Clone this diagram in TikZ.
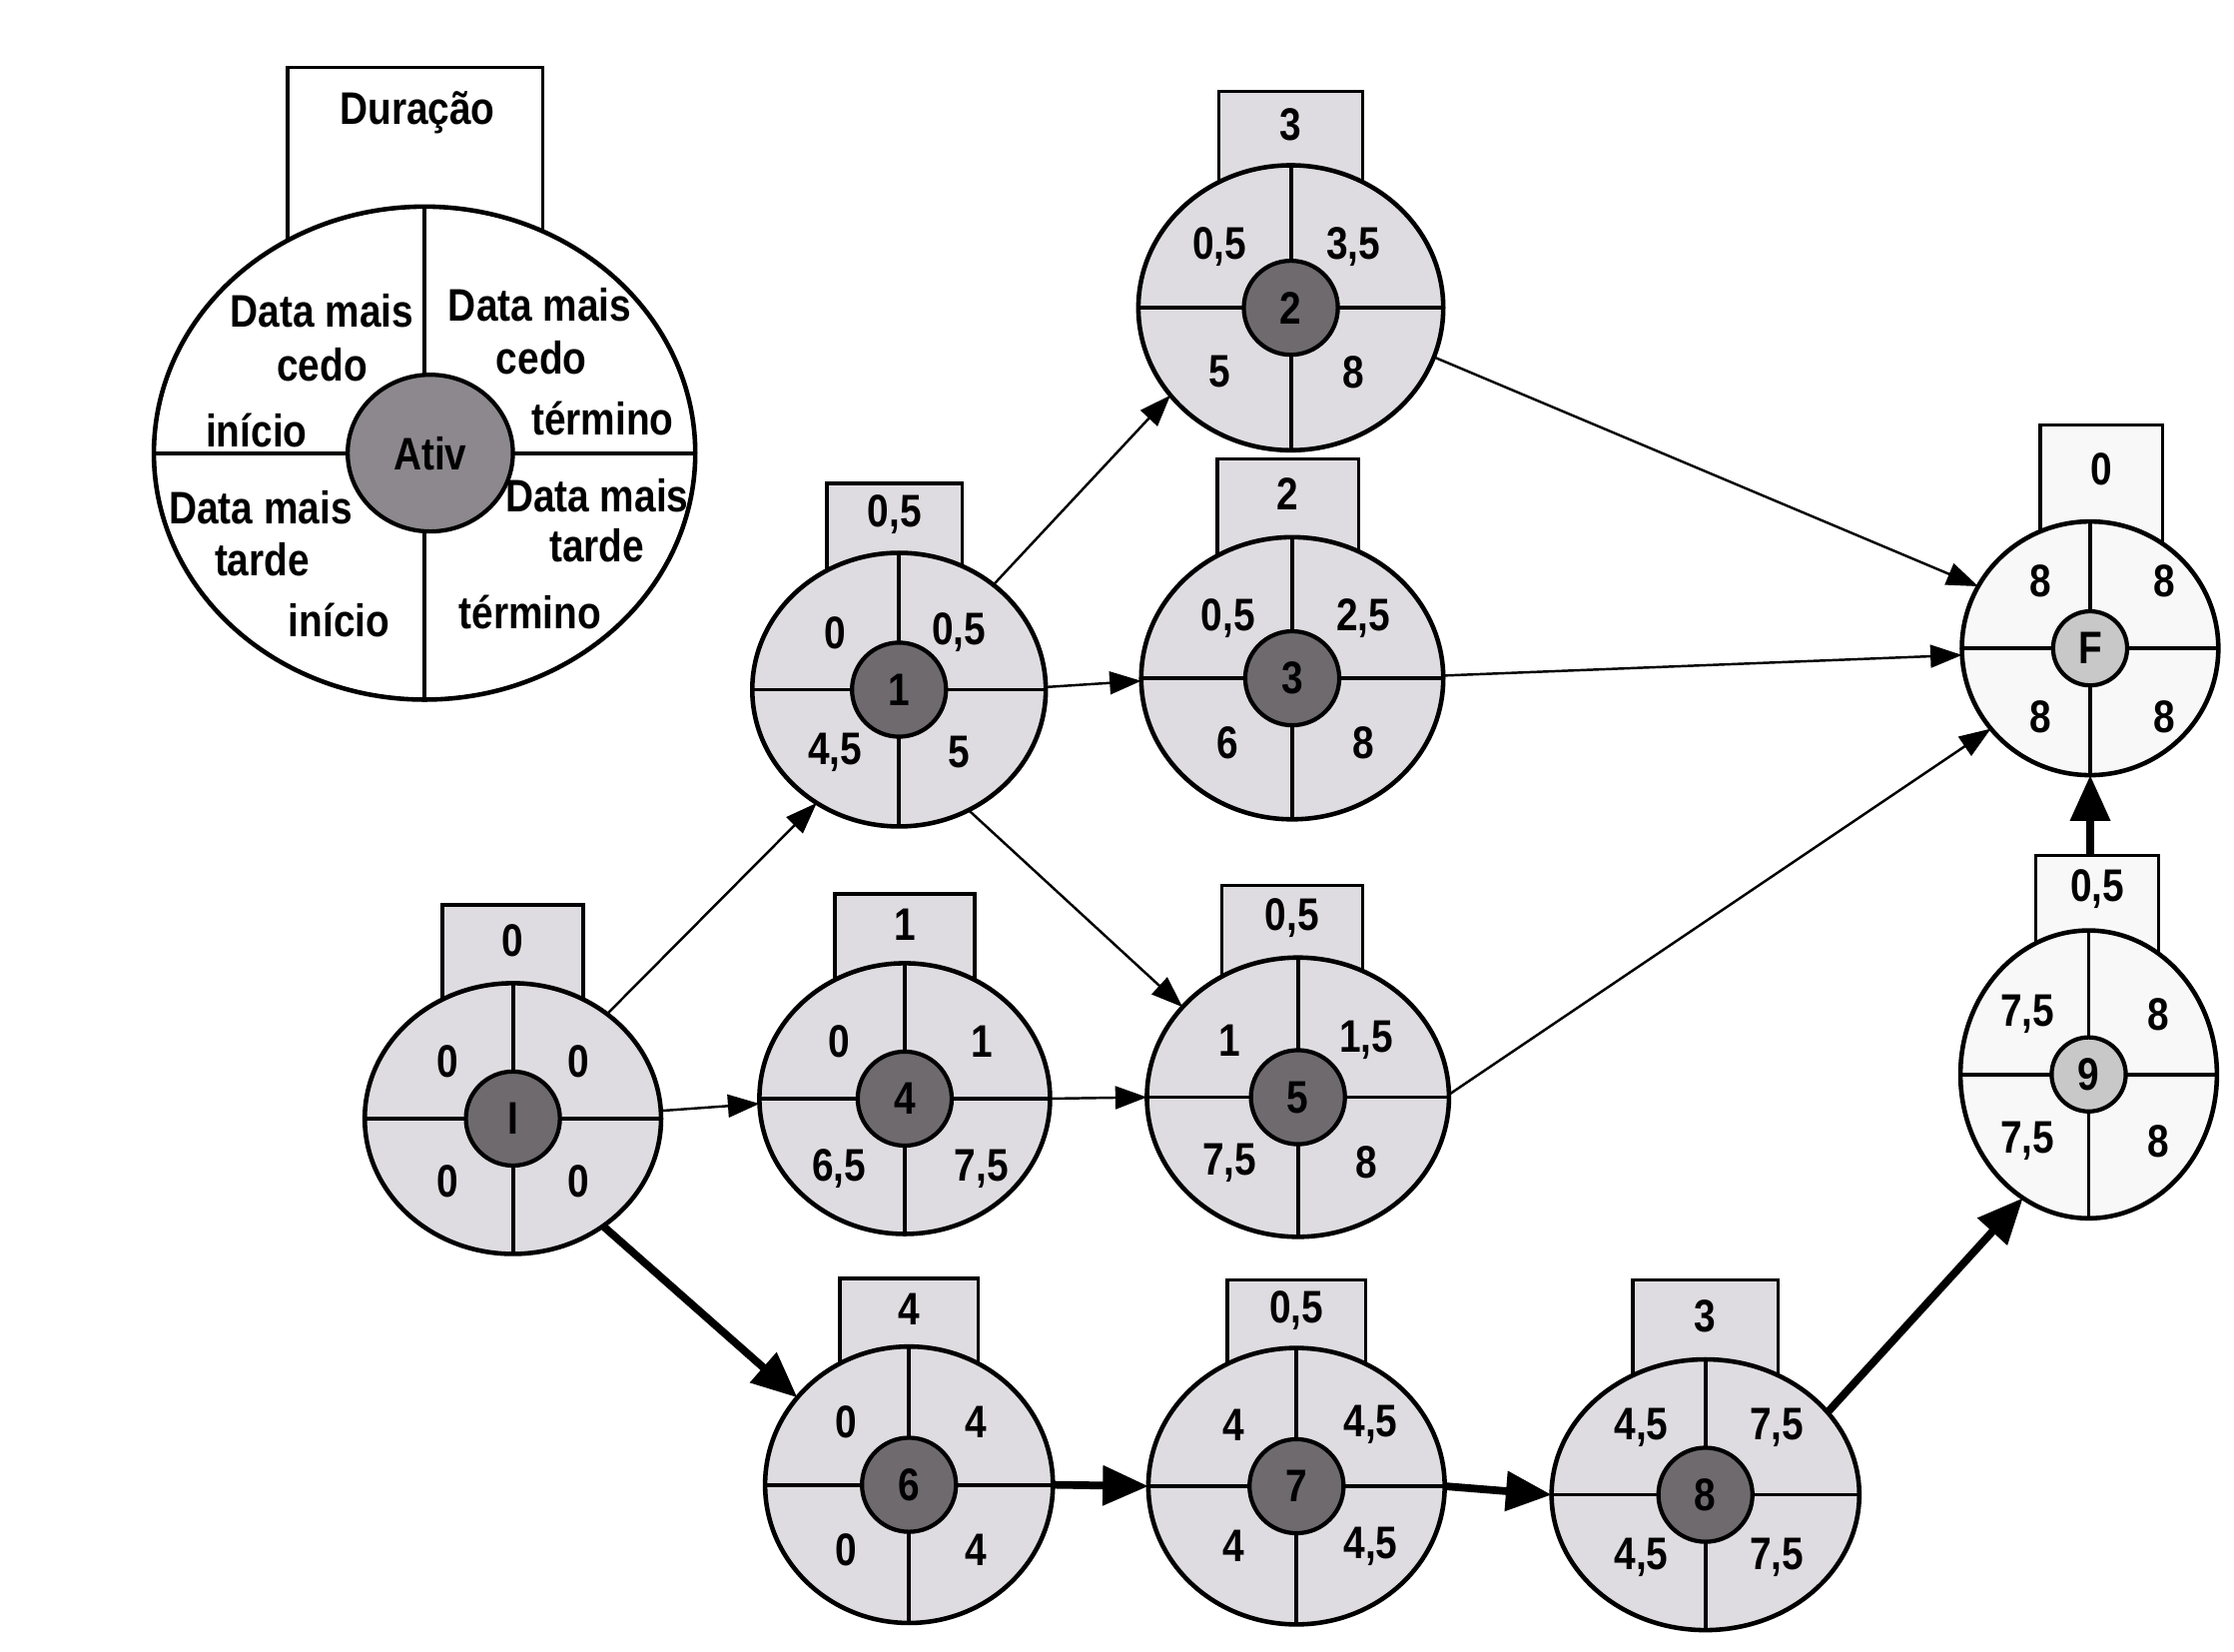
\documentclass[tikz,border=0pt]{standalone}
\usepackage{fontspec}
\setmainfont{Liberation Sans}[FakeStretch=0.85]
\usetikzlibrary{shapes.geometric,arrows.meta,calc}
\newlength\un \setlength\un{0.014267cm}
\newcommand\nodefont{\fontsize{13}{15}\selectfont\bfseries}
\definecolor{nodefill}{RGB}{222,220,224}
\definecolor{innerfill}{RGB}{110,106,110}
\definecolor{lightfill}{RGB}{248,248,248}
\definecolor{lightinner}{RGB}{200,200,200}
\definecolor{leginner}{RGB}{140,136,142}
\pgfkeys{/act/.cd, rx/.store in=\arx, ry/.store in=\ary, bw/.store in=\abw, bh/.store in=\abh,
  fill/.store in=\afill, cfill/.store in=\acfill, cr/.store in=\acr, xl/.store in=\axl,
  xr/.store in=\axr, yt/.store in=\ayt, yb/.store in=\ayb, bx/.store in=\abx}
\tikzset{
  durbox/.style={draw, line width=1pt, inner sep=0pt},
  ell/.style={ellipse, draw, line width=1.3pt, inner sep=0pt, outer sep=0pt},
  cross/.style={line width=1.1pt},
  core/.style={circle, draw, line width=1.2pt, inner sep=0pt, font=\nodefont},
  txt/.style={inner sep=0pt, font=\nodefont},
  thinarrow/.style={line width=0.7pt, -{Triangle[length=9pt,width=6.5pt]}},
  thickarrow/.style={line width=2.2pt, -{Triangle[length=13pt,width=11pt]}}
}
% #1 options, #2 name, #3 centre, #4 duration, #5 label, #6 tl, #7 tr, #8 bl, #9 br
\newcommand\actv[9][]{%
  \pgfkeys{/act/.cd, rx=104, ry=97, bw=98, bh=52, bx=0, fill=nodefill, cfill=innerfill,
    cr=33, xl=46, xr=48, yt=41, yb=45, #1}%
  \coordinate (#2-c) at #3;
  \node[durbox, fill=\afill, minimum width={\abw*\un}, minimum height={(\abh+45)*\un}, anchor=north]
    (#2-box) at ($(#2-c)+({\abx},{-\ary-\abh})$) {};
  \node[txt] (#2-dur) at ($(#2-c)+({\abx},{-\ary-\abh/2-2})$) {#4};
  \node[ell, fill=\afill, minimum width={2*\arx*\un}, minimum height={2*\ary*\un}] (#2) at (#2-c) {};
  \draw[cross] (#2.north) -- (#2.south) (#2.west) -- (#2.east);
  \node[core, fill=\acfill, minimum size={2*\acr*\un}] (#2-in) at (#2-c) {#5};
  \node[txt] (#2-tl) at ($(#2-c)+({-\axl},{-\ayt})$) {#6};
  \node[txt] (#2-tr) at ($(#2-c)+({\axr},{-\ayt})$) {#7};
  \node[txt] (#2-bl) at ($(#2-c)+({-\axl},{\ayb})$) {#8};
  \node[txt] (#2-br) at ($(#2-c)+({\axr},{\ayb})$) {#9};
}
\begin{document}
\begin{tikzpicture}[x=0.014267cm, y=-0.014267cm]
\fill[white] (0,0) rectangle (1568,1159);
\useasboundingbox (0,0) rectangle (1568,1159);

% legend
\node[durbox, fill=white, minimum width={179*\un}, minimum height={150*\un}, anchor=north] (leg-box) at (291.5,46) {};
\node[txt] (leg-dur) at (293,79) {Duração};
\node[ell, fill=white, minimum width={380*\un}, minimum height={346*\un}] (leg) at (298,318) {};
\draw[cross] (leg.north) -- (leg.south) (leg.west) -- (leg.east);
\node[ellipse, draw, line width=1.2pt, fill=leginner, minimum width={116*\un}, minimum height={110*\un}, inner sep=0pt, font=\nodefont] (leg-in) at (302,318) {Ativ};
\node[txt] (l1a) at (226,218) {Data mais};
\node[txt] (l1b) at (226,256) {cedo};
\node[txt] (l1c) at (180,302) {início};
\node[txt] (l2a) at (379,214) {Data mais};
\node[txt] (l2b) at (380,251) {cedo};
\node[txt] (l2c) at (423,294) {término};
\node[txt] (l3a) at (183,356) {Data mais};
\node[txt] (l3b) at (184,393) {tarde};
\node[txt] (l3c) at (238,435) {início};
\node[txt] (l4a) at (419,348) {Data mais};
\node[txt] (l4b) at (419,383) {tarde};
\node[txt] (l4c) at (372,430) {término};

% activities
\actv[rx=104,ry=95,bw=99,bh=56,xl=46,xr=46,yt=40,yb=44]{nI}{(360,785)}{0}{I}{0}{0}{0}{0}
\actv[rx=103,ry=96,bw=95,bh=50,bx=-3,xl=45,xr=42,yt=40,yb=44]{n1}{(631,484)}{0,5}{1}{0}{0,5}{4,5}{5}
\actv[rx=107,ry=100,bw=101,bh=53,xl=50,xr=44,yt=43,yb=45]{n2}{(906,216)}{3}{2}{0,5}{3,5}{5}{8}
\actv[rx=106,ry=99,bw=99,bh=56,bx=-3,xl=45,xr=50,yt=42,yb=45]{n3}{(907,476)}{2}{3}{0,5}{2,5}{6}{8}
\actv[rx=102,ry=95,bw=98,bh=50,xl=46,xr=54,yt=40,yb=49]{n4}{(635,771)}{1}{4}{0}{1}{6,5}{7,5}
\actv[rx=106,ry=98,bw=99,bh=52,bx=-4,xl=48,xr=48,yt=40,yb=46]{n5}{(911,770)}{0,5}{5}{1}{1,5}{7,5}{8}
\actv[rx=101,ry=97,bw=97,bh=49,xl=44,xr=47,yt=44,yb=46]{n6}{(638,1042)}{4}{6}{0}{4}{0}{4}
\actv[rx=104,ry=97,bw=97,bh=49,xl=44,xr=52,yt=43,yb=42]{n7}{(910,1043)}{0,5}{7}{4}{4,5}{4}{4,5}
\actv[rx=108,ry=95,bw=102,bh=57,xl=45,xr=50,yt=47,yb=44]{n8}{(1197,1049)}{3}{8}{4,5}{7,5}{4,5}{7,5}
\actv[rx=90,ry=89,bw=86,bh=69,bx=8,fill=lightfill,cfill=lightinner,cr=26,xl=35,xr=52,yt=47,yb=48]{nF}{(1467,455)}{0}{F}{8}{8}{8}{8}
\actv[rx=90,ry=101,bw=86,bh=54,bx=6,fill=lightfill,cfill=lightinner,cr=26,xl=43,xr=49,yt=42,yb=47]{n9}{(1466,754)}{0,5}{9}{7,5}{8}{7,5}{8}

% connectors
\draw[thinarrow] (nI.48) -- (n1.234);
\draw[thinarrow] (nI.3) -- (n4.182);
\draw[thickarrow] (nI.-50) -- (n6.142);
\draw[thinarrow] (n1.48) -- (n2.216);
\draw[thinarrow] (n1.1) -- (n3.181);
\draw[thinarrow] (n1.-60) -- (n5.142);
\draw[thinarrow] (n4.east) -- (n5.west);
\draw[thinarrow] (n2.-19) -- (nF.151);
\draw[thinarrow] (n3.1) -- (nF.183);
\draw[thinarrow] (n5.1) -- (nF.219);
\draw[thickarrow] (n6.east) -- (n7.west);
\draw[thickarrow] (n7.east) -- (n8.west);
\draw[thickarrow] (n8.34) -- (n9.242);
\draw[thickarrow] ([xshift=-2pt]n9-box.north) -- ([xshift=-2pt]n9-box.north |- nF.south);
\end{tikzpicture}
\end{document}
